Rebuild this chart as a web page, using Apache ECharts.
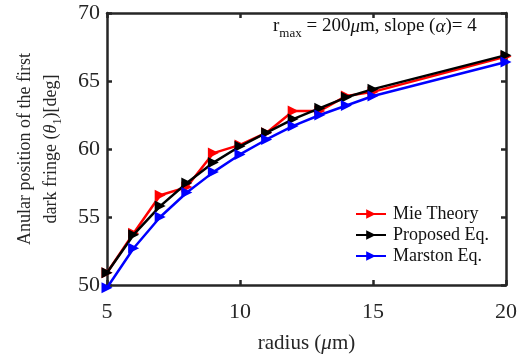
<!DOCTYPE html>
<html>
<head>
<meta charset="utf-8">
<script src="https://cdn.jsdelivr.net/npm/echarts@6/dist/echarts.min.js"></script>
<style>html,body{margin:0;padding:0;background:#fff;}#c{width:525px;height:357px;}</style>
</head>
<body>
<div id="c"></div>
<script>
const radius = [5, 6, 7, 8, 9, 10, 11, 12, 13, 14, 15, 20];
const mieTheory = [50.9, 53.8, 56.6, 57.2, 59.7, 60.3, 61.2, 62.8, 62.8, 63.9, 64.2, 66.8];
const proposedEq = [50.9, 53.7, 55.8, 57.5, 59.0, 60.2, 61.2, 62.2, 63.0, 63.8, 64.4, 66.9];
const marstonEq = [49.8, 52.7, 55.0, 56.8, 58.3, 59.6, 60.7, 61.7, 62.5, 63.2, 63.9, 66.4];
const xTicks = [5, 10, 15, 20];
const yTicks = [50, 55, 60, 65, 70];
const seriesNames = ['Mie Theory', 'Proposed Eq.', 'Marston Eq.'];
const seriesColors = ['#ff0000', '#000000', '#0000ff'];

const FONT = '"Liberation Serif", "Times New Roman", serif';
const AX = '#262626';
const chart = echarts.init(document.getElementById('c'));
const allData = [mieTheory, proposedEq, marstonEq];

function axisCommon(showLabels, margin) {
  return {
    axisLine: { show: true, lineStyle: { color: AX, width: 2.5 } },
    axisTick: { show: true, inside: true, length: 5, lineStyle: { color: AX, width: 2.5 } },
    splitLine: { show: false },
    axisLabel: { show: showLabels, color: AX, fontFamily: FONT, fontSize: 22, margin: margin }
  };
}

chart.setOption({
  animation: false,
  backgroundColor: '#fff',
  grid: { left: 107, right: 19, top: 13, bottom: 72, containLabel: false, outerBoundsMode: 'none' },
  legend: {
    left: 350, top: 200, orient: 'vertical', itemGap: 3,
    itemWidth: 30, itemHeight: 12,
    data: seriesNames,
    textStyle: { fontFamily: FONT, fontSize: 18, color: '#111', padding: [0, 0, 0, 2] }
  },
  xAxis: [
    Object.assign(axisCommon(true, 16), {
      type: 'value', min: xTicks[0], max: xTicks[xTicks.length - 1], interval: 5,
      name: 'radius ({it|μ}m)', nameLocation: 'middle', nameGap: 48,
      nameTextStyle: { fontFamily: FONT, fontSize: 21, color: AX,
        rich: { it: { fontFamily: FONT, fontSize: 21, fontStyle: 'italic', color: AX } } }
    }),
    Object.assign(axisCommon(false, 8), {
      type: 'value', position: 'top', min: xTicks[0], max: xTicks[xTicks.length - 1], interval: 5
    })
  ],
  yAxis: [
    Object.assign(axisCommon(true, 7), {
      type: 'value', min: yTicks[0], max: yTicks[yTicks.length - 1], interval: 5,
      name: 'Anular position of the first\ndark fringe ({it|θ}{sub|1})[deg]',
      nameLocation: 'middle', nameRotate: 90, nameGap: 43,
      nameTextStyle: { fontFamily: FONT, fontSize: 18, color: AX, lineHeight: 26, align: 'center',
        rich: { it: { fontFamily: FONT, fontSize: 18, fontStyle: 'italic', color: AX, lineHeight: 26 },
                sub: { fontFamily: FONT, fontSize: 12, color: AX, verticalAlign: 'bottom', padding: [8, 0, 0, 0], lineHeight: 26 } } }
    }),
    Object.assign(axisCommon(false, 8), {
      type: 'value', position: 'right', min: yTicks[0], max: yTicks[yTicks.length - 1], interval: 5
    })
  ],
  graphic: [{
    type: 'text', left: 273, top: 17,
    style: {
      text: 'r{sub|max} = 200{it|μ}m, slope ({it|α})= 4',
      fontFamily: FONT, fontSize: 19, fill: '#111',
      rich: {
        sub: { fontFamily: FONT, fontSize: 13, fill: '#111', padding: [14, 0, 0, 0] },
        it: { fontFamily: FONT, fontSize: 19, fontStyle: 'italic', fill: '#111' }
      }
    }
  }],
  series: seriesNames.map((n, i) => ({
    name: n, type: 'line',
    data: radius.map((r, j) => [r, allData[i][j]]),
    symbol: 'triangle', symbolRotate: -90, symbolSize: 11,
    clip: false,
    lineStyle: { color: seriesColors[i], width: 2.5 },
    itemStyle: { color: seriesColors[i] },
    z: 3 + i
  }))
});
</script>
</body>
</html>
